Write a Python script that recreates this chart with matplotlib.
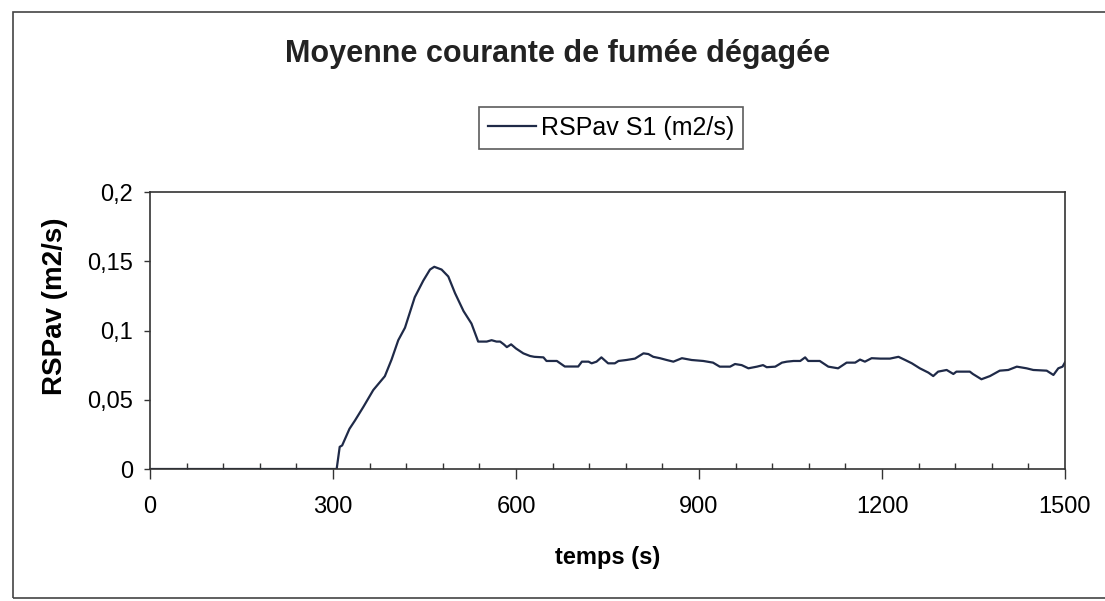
import matplotlib
matplotlib.use("Agg")
import matplotlib.pyplot as plt
from matplotlib.patches import Rectangle
from matplotlib.ticker import MultipleLocator, FuncFormatter

plt.rcParams["font.family"] = ["Liberation Sans", "DejaVu Sans"]

# temps (s) et moyenne courante RSPav (m2/s)
temps = [0, 306, 311, 315, 327, 336, 350, 366, 385, 396, 407, 418, 434, 448, 459, 466,
         478, 489, 500, 514, 527, 538, 552, 560, 568, 574, 580, 585, 592, 600, 612, 623,
         630, 645, 650, 667, 680, 702, 708, 719, 724, 732, 740, 751, 762, 768, 781, 795,
         809, 817, 825, 836, 847, 858, 872, 888, 907, 923, 934, 951, 959, 970, 981, 995,
         1005, 1011, 1025, 1036, 1044, 1055, 1066, 1074, 1079, 1098, 1112, 1128, 1142,
         1156, 1164, 1172, 1183, 1197, 1213, 1227, 1238, 1249, 1262, 1276, 1284, 1292,
         1306, 1317, 1322, 1344, 1349, 1363, 1377, 1393, 1407, 1421, 1437, 1448, 1470,
         1481, 1489, 1496, 1500]
rspav = [0, 0, 0.016, 0.017, 0.029, 0.035, 0.045, 0.057, 0.067, 0.079, 0.093, 0.102,
         0.124, 0.136, 0.144, 0.146, 0.144, 0.139, 0.127, 0.114, 0.105, 0.092, 0.092,
         0.093, 0.092, 0.092, 0.090, 0.088, 0.090, 0.087, 0.0835, 0.0816, 0.081, 0.0806,
         0.078, 0.078, 0.074, 0.074, 0.0775, 0.0775, 0.0763, 0.0775, 0.0806, 0.0763,
         0.0763, 0.078, 0.0787, 0.0797, 0.0835, 0.083, 0.081, 0.080, 0.0787, 0.0775,
         0.080, 0.0787, 0.078, 0.0768, 0.0739, 0.0739, 0.0758, 0.075, 0.0727, 0.0739,
         0.075, 0.0735, 0.0739, 0.0768, 0.0775, 0.078, 0.078, 0.0806, 0.078, 0.078,
         0.0739, 0.0727, 0.0768, 0.0768, 0.079, 0.0775, 0.080, 0.0797, 0.0797, 0.081,
         0.0787, 0.0763, 0.0727, 0.0696, 0.0671, 0.0703, 0.0715, 0.0686, 0.0703, 0.0703,
         0.0686, 0.0648, 0.0671, 0.071, 0.0715, 0.0739, 0.0727, 0.0715, 0.071, 0.0679,
         0.0727, 0.0739, 0.077]

W, H = 1105, 601
fig = plt.figure(figsize=(W / 100, H / 100), dpi=100)
ax = fig.add_axes([150 / W, 1 - 469 / H, 915 / W, 277 / H])

ax.plot(temps, rspav, color="#1f2a48", lw=1.6, label="RSPav S1 (m2/s)")

ax.set_xlim(0, 1500)
ax.set_ylim(0, 0.2)
ax.xaxis.set_major_locator(MultipleLocator(300))
ax.xaxis.set_minor_locator(MultipleLocator(60))
ax.yaxis.set_major_locator(MultipleLocator(0.05))
ax.yaxis.set_major_formatter(FuncFormatter(lambda v, p: f"{v:g}".replace(".", ",")))
ax.tick_params(axis="x", which="major", direction="out", length=7.5, width=1,
               labelsize=17, pad=12, color="#333")
ax.tick_params(axis="x", which="minor", direction="in", length=4.5, width=1, color="#333")
ax.tick_params(axis="y", which="major", direction="out", length=4, width=1,
               labelsize=17, pad=8, color="#333")
for s in ax.spines.values():
    s.set_color("#333")
    s.set_linewidth(1.2)

ax.set_xlabel("temps (s)", fontsize=17, fontweight="bold")
ax.xaxis.set_label_coords(0.5, -0.321)
ax.xaxis.label.set_va("center")
ax.set_ylabel("RSPav (m2/s)", fontsize=20, fontweight="bold")
ax.yaxis.set_label_coords(-0.104, 0.588)
ax.yaxis.label.set_va("center")

fig.text(558 / W, 1 - 54 / H, "Moyenne courante de fumée dégagée",
         fontsize=22, fontweight="bold", ha="center", va="center", color="#222")

leg = ax.legend(loc="center", bbox_to_anchor=(611 / W, 1 - 128 / H),
                bbox_transform=fig.transFigure, fontsize=18, frameon=True,
                fancybox=False, handlelength=1.9, handletextpad=0.2,
                borderpad=0.35)
leg.get_frame().set_edgecolor("#333")
leg.get_frame().set_linewidth(1.2)

fig.add_artist(Rectangle((13 / W, 1 - 598 / H), 1.0, (598 - 12) / H,
                         transform=fig.transFigure, fill=False,
                         edgecolor="#444", lw=1.2))

fig.savefig("out.png", dpi=100)
